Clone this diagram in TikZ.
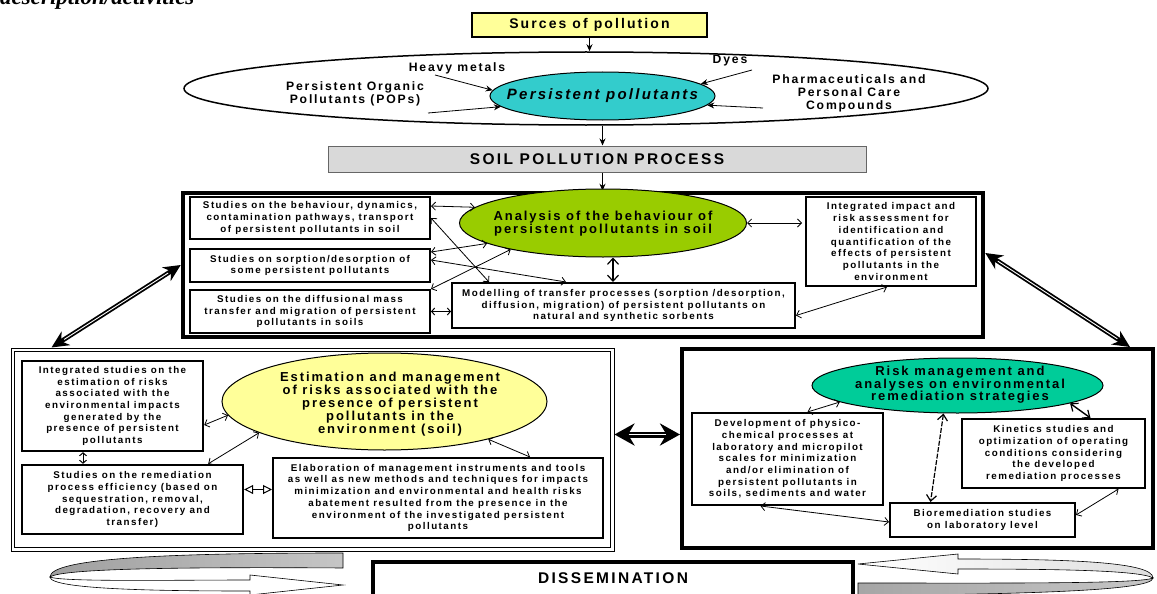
\documentclass[tikz,border=0pt]{standalone}
\usepackage{fontspec}
\setmainfont{Liberation Sans}[LetterSpace=15]
\newfontfamily\titlefont{Liberation Serif}
\usetikzlibrary{arrows.meta,shapes.geometric}
\definecolor{ylw}{HTML}{FFFF99}
\definecolor{cyanpp}{HTML}{33CCCC}
\definecolor{grn}{HTML}{99CC00}
\definecolor{tealg}{HTML}{00CC99}
\tikzset{
  bt/.style={font=\bfseries\fontsize{9.8}{11.7}\selectfont, align=center},
  lbl/.style={font=\bfseries\fontsize{12.2}{13}\selectfont, align=center},
  big/.style={font=\bfseries\fontsize{13}{13}\selectfont, align=center},
  box/.style={draw, line width=2pt, fill=white, inner sep=0pt, rectangle, bt},
  ell/.style={draw, ellipse, line width=1pt, inner sep=0pt},
  barb/.tip={Straight Barb[length=4pt,width=8pt,line width=0.8pt]},
  arr/.style={barb-barb, line width=0.8pt},
  sarr/.style={-{Stealth[length=7pt,width=6pt]}, line width=1pt},
  bigarr/.style={line width=4.5pt, {Stealth[length=17pt,width=16pt]}-{Stealth[length=17pt,width=16pt]}},
  inner/.style={white, line width=0.9pt, shorten <=15pt, shorten >=15pt},
}
\begin{document}
\begin{tikzpicture}[x=1pt,y=-1pt]
\useasboundingbox (0,0) rectangle (1157,594);
\fill[white] (0,0) rectangle (1157,594);

% title (cut at top, as in the reference)
\node[anchor=base west, inner sep=0pt, font=\titlefont\bfseries\itshape\fontsize{23}{23}\selectfont] (title) at (0,4.5) {description/activities};

% sources
\node[draw, fill=ylw, line width=1.8pt, minimum width=235pt, minimum height=24pt, inner sep=0pt, font=\bfseries\fontsize{14}{14}\selectfont] (src) at (589.5,25) {Surces of pollution};
\node[ell, line width=1.5pt, fill=white, minimum width=804pt, minimum height=73pt] (bigell) at (586,88.5) {};
\node[ell, fill=cyanpp, minimum width=225pt, minimum height=48pt] (pp) at (602.5,96) {};
\node[font=\bfseries\itshape\fontsize{15}{15}\selectfont] (pptext) at (pp) {Persistent pollutants};
\draw[sarr] (src.south) -- (src.south |- bigell.north);

\node[lbl] (hm) at (457,68) {Heavy metals};
\node[lbl] (pops) at (355,94) {Persistent Organic\\Pollutants (POPs)};
\node[lbl] (dyes) at (730,61) {Dyes};
\node[lbl] (ph) at (849,93) {Pharmaceuticals and\\Personal Care\\Compounds};
\coordinate (hm1) at (435,75);
\coordinate (pops1) at (428,113);
\coordinate (dy1) at (752,70);
\coordinate (ph1) at (763,108);
\draw[sarr, line width=0.8pt] (hm1) -- (pp.177);
\draw[sarr, line width=0.8pt] (pops1) -- (pp.186);
\draw[sarr, line width=0.8pt] (dy1) -- (pp.7);
\draw[sarr, line width=0.8pt] (ph1) -- (pp.-5);

% soil pollution process
\node[draw=black!60, fill=black!15, line width=1pt, minimum width=538pt, minimum height=26pt, inner sep=0pt, font=\bfseries\fontsize{15.5}{15.5}\selectfont] (soil) at (597,159) {SOIL POLLUTION PROCESS};
\draw[sarr] (pp.south |- bigell.south) -- (pp.south |- soil.north);

% box 1
\node[draw, line width=4.5pt, minimum width=800pt, minimum height=144pt, inner sep=0pt] (box1) at (583,265) {};
\draw[sarr] (pp.south |- soil.south) -- (pp.south |- box1.north);
\node[box, minimum width=240pt, minimum height=42pt] (A) at (310,218) {Studies on the behaviour, dynamics,\\contamination pathways, transport\\of persistent pollutants in soil};
\node[box, minimum width=240pt, minimum height=33pt] (B) at (310,265.5) {Studies on sorption/desorption of\\some persistent pollutants};
\node[box, minimum width=240pt, minimum height=43pt] (C) at (310,311.5) {Studies on the diffusional mass\\transfer and migration of persistent\\pollutants in soils};
\node[box, minimum width=343pt, minimum height=45pt] (D) at (623.5,305.5) {Modelling of transfer processes (sorption /desorption,\\diffusion, migration) of persistent pollutants on\\natural and synthetic sorbents};
\node[box, minimum width=170pt, minimum height=89pt] (E) at (891,241.5) {Integrated impact and\\risk assessment for\\identification and\\quantification of the\\effects of persistent\\pollutants in the\\environment};
\node[ell, fill=grn, minimum width=287pt, minimum height=68pt] (gr) at (603,223) {};
\node[big] (grtext) at (603,224) {Analysis of the behaviour of\\persistent pollutants in soil};

\draw[arr] ([yshift=-10pt]A.north east) -- (gr.173);
\draw[arr] (A.east) -- ([xshift=38pt]D.north west);
\draw[arr] ([yshift=-4pt]B.north east) -- (gr.190);
\draw[arr] ([yshift=-12pt]B.north east) -- ([xshift=115pt]D.north west);
\draw[arr] (C.north east) -- (gr.196);
\draw[{Straight Barb[length=3pt,width=7pt]}-{Straight Barb[length=3pt,width=7pt]}, line width=1pt] (C.east) -- (C.east -| D.west);
\draw[{Straight Barb[length=6pt,width=11pt,line width=1.2pt]}-{Straight Barb[length=6pt,width=11pt,line width=1.2pt]}, line width=1.4pt] ([xshift=10pt]gr.south) -- ([xshift=10pt]gr.south |- D.north);
\draw[arr, shorten >=3pt] (gr.east) -- (gr.east -| E.west);
\draw[arr] ([yshift=-10pt]D.east) -- ([xshift=-4pt]E.south);

% box 2 (double border)
\node[draw, line width=1pt, minimum width=603pt, minimum height=203pt, inner sep=0pt] (box2) at (312.5,449.5) {};
\draw[line width=1.6pt] (14.5,351.5) rectangle (610.5,547.5);
\node[box, minimum width=181pt, minimum height=90pt, line width=2.4pt] (F) at (112.5,406) {Integrated studies on the\\estimation of risks\\associated with the\\environmental impacts\\generated by the\\presence of persistent\\pollutants};
\node[box, minimum width=221pt, minimum height=69pt, line width=2.4pt] (G) at (132.5,499.5) {Studies on the remediation\\process efficiency (based on\\sequestration, removal,\\degradation, recovery and\\transfer)};
\node[box, minimum width=330pt, minimum height=80pt] (H) at (438,498) {Elaboration of management instruments and tools\\as well as new methods and techniques for impacts\\minimization and environmental and health risks\\abatement resulted from the presence in the\\environment of the investigated persistent\\pollutants};
\node[ell, fill=ylw, minimum width=325pt, minimum height=97pt] (ye) at (384.5,401.5) {};
\node[big] (yetext) at (390,404) {Estimation and management\\of risks associated with the\\presence of persistent\\pollutants in the\\environment (soil)};
\draw[arr] ([yshift=-19pt]F.east) -- (ye.185);
\draw[arr] ([xshift=-36pt]G.north east) -- (ye.194);
\draw[{Straight Barb[length=3pt,width=7pt]}-{Straight Barb[length=3pt,width=7pt]}, line width=1pt] ([xshift=-29.5pt]F.south) -- ([xshift=-29.5pt]F.south |- G.north);
\draw[{Triangle[open,length=9pt,width=9pt,line width=1pt]}-{Triangle[open,length=9pt,width=9pt,line width=1pt]}, line width=1pt] ([yshift=10pt]G.east) -- ([yshift=10pt]G.east -| H.west);
\draw[arr] (ye.-20) -- ([xshift=92pt]H.north);

% box 3
\node[draw, line width=4pt, minimum width=471pt, minimum height=199pt, inner sep=0pt] (box3) at (917.5,448.5) {};
\node[box, minimum width=191pt, minimum height=92pt] (I) at (787.5,459) {Development of physico-\\chemical processes at\\laboratory and micropilot\\scales for minimization\\and/or elimination of\\persistent pollutants in\\soils, sediments and water};
\node[box, minimum width=183pt, minimum height=69pt] (J) at (1053.5,453.5) {Kinetics studies and\\optimization of operating\\conditions considering\\the developed\\remediation processes};
\node[box, minimum width=185pt, minimum height=34pt] (K) at (982.5,520) {Bioremediation studies\\on laboratory level};
\node[ell, fill=tealg, minimum width=291pt, minimum height=55pt] (tl) at (957.5,385.5) {};
\node[big, font=\bfseries\fontsize{13}{12.5}\selectfont] (tltext) at (960,385) {Risk management and\\analyses on environmental\\remediation strategies};
\draw[arr] ([xshift=20pt]I.north) -- (tl.188);
\draw[{Straight Barb[length=6pt,width=10pt,line width=1.2pt]}-{Straight Barb[length=6pt,width=10pt,line width=1.2pt]}, line width=1.2pt, dash pattern=on 5pt off 1.5pt] ([xshift=-14pt]tl.south) -- ([xshift=-52pt]K.north);
\draw[{Straight Barb[length=6pt,width=10pt,line width=1.2pt]}-{Straight Barb[length=6pt,width=10pt,line width=1.2pt]}, line width=1.4pt] (tl.-9) -- ([xshift=37pt]J.north);
\draw[arr] ([xshift=-27pt]I.south) -- ([yshift=-2pt]K.west);
\draw[arr] ([yshift=5pt]K.east) -- ([xshift=65pt]J.south);

% big connecting arrows
\draw[bigarr] (box1.west) -- ([xshift=41pt]box2.north west);
\draw[inner] (box1.west) -- ([xshift=41pt]box2.north west);
\draw[bigarr] ([yshift=12pt]box1.east) -- ([xshift=-25pt]box3.north east);
\draw[inner] ([yshift=12pt]box1.east) -- ([xshift=-25pt]box3.north east);
\draw[line width=6pt, {Stealth[length=20pt,width=22pt]}-{Stealth[length=20pt,width=22pt]}] ([yshift=15pt]box2.east) -- ([yshift=15pt]box2.east -| box3.west);
\draw[white, line width=1.5pt, shorten <=14pt, shorten >=14pt] ([yshift=15pt]box2.east) -- ([yshift=15pt]box2.east -| box3.west);

% dissemination
\node[draw, line width=4pt, minimum width=480pt, minimum height=36pt, inner sep=0pt] (diss) at (613,580) {};
\node[font=\bfseries\fontsize{15.5}{15.5}\selectfont] (disstext) at (613,578.5) {DISSEMINATION};

% left ribbon
\draw[line width=0.6pt, left color=gray!75, right color=gray!45]
  (343,553) .. controls (170,553) and (50,558) .. (50,577)
  .. controls (62,568) and (200,567) .. (343,568) -- cycle;
\draw[line width=0.6pt, fill=white]
  (50,577) .. controls (50,590) and (170,591) .. (250,591)
  -- (250,595) -- (343,585) -- (250,575) -- (250,580)
  .. controls (170,580) and (62,582) .. (50,577) -- cycle;
% right ribbon
\draw[line width=0.6pt, left color=white, right color=gray!25]
  (858,564) -- (958,554) -- (958,559) .. controls (1070,559) and (1153,562) .. (1153,578)
  .. controls (1140,570) and (1050,569) .. (958,569) -- (958,574) -- cycle;
\draw[line width=0.6pt, left color=gray!70, right color=gray!45]
  (1153,578) .. controls (1153,592) and (1000,594) .. (858,596)
  -- (858,583) .. controls (1000,583) and (1140,584) .. (1153,578) -- cycle;
\end{tikzpicture}
\end{document}
